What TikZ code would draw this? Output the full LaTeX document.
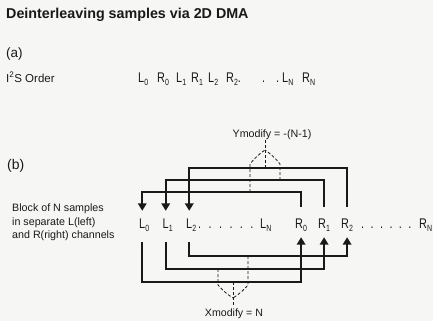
\documentclass[tikz,border=0pt]{standalone}
\usepackage{fontspec}
\setmainfont{Liberation Sans}
\newfontfamily\condfont{Liberation Sans}[FakeStretch=0.78]
\usetikzlibrary{arrows.meta}
\definecolor{ink}{RGB}{25,25,25}
\definecolor{bg}{RGB}{246,246,244}
\newcommand{\lsub}[1]{\raisebox{-3pt}{\fontsize{9}{9}\selectfont #1}}
\newcommand{\dotrow}[1]{.\hspace{#1}.\hspace{#1}.\hspace{#1}.\hspace{#1}.\hspace{#1}.}
\begin{document}
\begin{tikzpicture}[x=1pt,y=-1pt,
  every node/.style={inner sep=0pt, text=ink},
  tok/.style={anchor=base west, font=\condfont\fontsize{14}{14}\selectfont, text height=10pt, text depth=4pt},
  conn/.style={draw=ink, line width=2.1pt},
  arr/.style={conn, -{Triangle[length=7.5pt,width=8.5pt]}},
  dsh/.style={draw=ink, line width=0.8pt, dash pattern=on 3pt off 2pt}
]
\fill[bg] (0,0) rectangle (433,321);
\clip (0,0) rectangle (433,321);

% headings
\node[anchor=base west, font=\bfseries\fontsize{14.3}{16}\selectfont] (title) at (6,19) {Deinterleaving samples via 2D DMA};
\node[anchor=base west, font=\fontsize{13.5}{15}\selectfont] (pa) at (6,57) {(a)};
\node[anchor=base west, font=\fontsize{11.5}{13}\selectfont] (i2s) at (6,82) {I\textsuperscript{2}S Order};
\node[anchor=base west, font=\fontsize{14}{15}\selectfont] (pb) at (7,169) {(b)};
\node[anchor=north west, align=left, font=\fontsize{10.7}{13.2}\selectfont] (block) at (12,204)
  {Block of N samples\\in separate L(left)\\and R(right) channels};

% (a) order
\node[tok] (a1) at (138,82) {L\lsub{0}};
\node[tok] (a2) at (157,82) {R\lsub{0}};
\node[tok] (a3) at (176,82) {L\lsub{1}};
\node[tok] (a4) at (191,82) {R\lsub{1}};
\node[tok] (a5) at (208,82) {L\lsub{2}};
\node[tok] (a6) at (226,82) {R\lsub{2}.};
\node[tok] (a7) at (262,82) {.\hspace{11pt}.};
\node[tok] (a8) at (282,82) {L\lsub{N}};
\node[tok] (a9) at (302,82) {R\lsub{N}};

% (b) block
\node[tok] (L0) at (139,228) {L\rlap{\lsub{0}}};
\node[tok] (L1) at (162.5,228) {L\rlap{\lsub{1}}};
\node[tok] (L2) at (186,228) {L\rlap{\lsub{2}}};
\node[tok] (dl) at (198,228) {\dotrow{7.4pt}};
\node[tok] (LN) at (260,228) {L\lsub{N}};
\node[tok] (R0) at (295,228) {R\lsub{0}};
\node[tok] (R1) at (318,228) {R\lsub{1}};
\node[tok] (R2) at (341,228) {R\lsub{2}};
\node[tok] (dr) at (361,228) {\dotrow{6.4pt}};
\node[tok] (RN) at (419,228) {R\lsub{N}};

% R -> L (top)
\draw[arr] ([yshift=11pt]R0.north) -- ([yshift=26pt]R0.north) -| ([yshift=7pt]L0.north);
\draw[arr] ([yshift=11pt]R1.north) -- ([yshift=38pt]R1.north) -| ([yshift=7pt]L1.north);
\draw[arr] ([yshift=11pt]R2.north) -- ([yshift=50pt]R2.north) -| ([yshift=7pt]L2.north);

% L -> R (bottom)
\draw[arr] ([yshift=-10pt]L0.south) -- ([yshift=-50pt]L0.south) -| ([yshift=-5pt]R0.south);
\draw[arr] ([yshift=-10pt]L1.south) -- ([yshift=-37pt]L1.south) -| ([yshift=-5pt]R1.south);
\draw[arr] ([yshift=-10pt]L2.south) -- ([yshift=-24pt]L2.south) -| ([yshift=-5pt]R2.south);

% Ymodify
\node[anchor=base, font=\fontsize{10.7}{13}\selectfont] (ymod) at (272,137) {Ymodify = -(N-1)};
\coordinate (yapex) at (265,150);
\draw[dsh] (250,192) -- (250,164) to[bend left=8] (yapex);
\draw[dsh] (280,180) -- (280,164) to[bend right=8] (yapex);
\draw[dsh] (265,168) -- (yapex |- ymod.south);

% Xmodify
\node[anchor=base, font=\fontsize{10.6}{13}\selectfont] (xmod) at (234,316) {Xmodify = N};
\coordinate (xapex) at (233,298);
\draw[dsh] (218,269) -- (218,285) to[bend right=8] (xapex);
\draw[dsh] (248,256) -- (248,285) to[bend left=8] (xapex);
\draw[dsh] (233,282) -- ([yshift=3pt]xapex |- xmod.north);
\end{tikzpicture}
\end{document}
